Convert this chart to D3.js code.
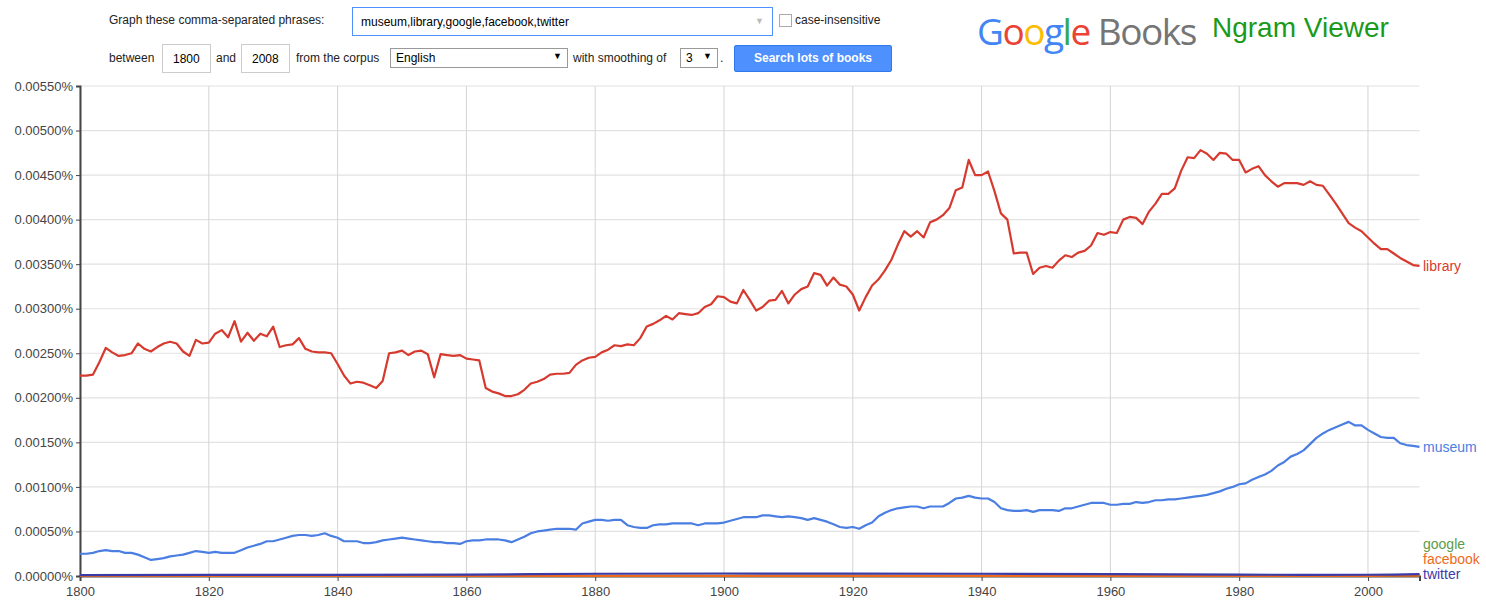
<!DOCTYPE html>
<html><head><meta charset="utf-8">
<script src="https://cdn.jsdelivr.net/npm/d3@7"></script>
<style>
body{margin:0;background:#fff;font-family:Arial,"Liberation Sans",sans-serif;}
.a{position:absolute;font-size:12px;color:#222;white-space:nowrap}
.box{position:absolute;border:1px solid #ccc;background:#fff;font-size:12px;box-sizing:border-box}
</style></head><body>
<div class="a" style="left:109px;top:13px">Graph these comma-separated phrases:</div>
<div class="box" style="left:352px;top:7px;width:421px;height:29px;border-color:#4d90fe;padding:7px 0 0 8px;">museum,library,google,facebook,twitter<span style="position:absolute;right:8px;top:8px;color:#bbb;font-size:9px">▼</span></div>
<div class="box" style="left:779px;top:14px;width:13px;height:13px;border-color:#aaa"></div>
<div class="a" style="left:795px;top:13px">case-insensitive</div>
<div class="a" style="left:109px;top:51px">between</div>
<div class="box" style="left:162px;top:44px;width:49px;height:29px;padding:7px 0 0 10px">1800</div>
<div class="a" style="left:216px;top:51px">and</div>
<div class="box" style="left:241px;top:44px;width:49px;height:29px;padding:7px 0 0 10px">2008</div>
<div class="a" style="left:296px;top:51px">from the corpus</div>
<div class="box" style="left:390px;top:48px;width:178px;height:20px;border-color:#999;padding:2px 0 0 5px">English<span style="position:absolute;right:5px;top:2px;font-size:9px">▼</span></div>
<div class="a" style="left:573px;top:51px">with smoothing of</div>
<div class="box" style="left:680px;top:48px;width:38px;height:20px;border-color:#999;padding:2px 0 0 5px">3<span style="position:absolute;right:5px;top:2px;font-size:9px">▼</span></div>
<div class="a" style="left:720px;top:51px">.</div>
<div style="position:absolute;left:734px;top:45px;width:158px;height:27px;background:#4d90fe;border:1px solid #3079ed;box-sizing:border-box;color:#fff;font-weight:bold;font-size:12px;text-align:center;line-height:25px;border-radius:2px">Search lots of books</div>
<div style="position:absolute;left:977px;top:5px;font-size:37px;font-family:'Open Sans',Arial,sans-serif;letter-spacing:-1.5px;white-space:nowrap"><span style="color:#4285f4">G</span><span style="color:#ea4335">o</span><span style="color:#fbbc05">o</span><span style="color:#4285f4">g</span><span style="color:#34a853">l</span><span style="color:#ea4335">e</span> <span style="color:#757575">Books</span></div>
<div style="position:absolute;left:1212px;top:12px;font-size:28px;color:#1a9a1a;font-family:Arial,'Liberation Sans',sans-serif;white-space:nowrap">Ngram Viewer</div>
<svg id="c" width="1486" height="607" style="position:absolute;left:0;top:0"></svg>
<script>
const startYear = 1800;
const library = [.00225,.00225,.00226,.0024,.00256,.00251,.00247,.00248,.0025,.00261,.00255,.00252,.00257,.00261,.00263,.00261,.00252,.00247,.00265,.00261,
.00262,.00272,.00276,.00268,.00286,.00263,.00273,.00264,.00272,.00269,.0028,.00257,.00259,.0026,.00267,.00255,.00252,.00251,.00251,.0025,
.00238,.00225,.00216,.00218,.00217,.00214,.00211,.00219,.0025,.00251,.00253,.00248,.00252,.00253,.00249,.00223,.00249,.00248,.00247,.00248,
.00244,.00243,.00242,.00211,.00207,.00205,.00202,.00202,.00204,.00209,.00216,.00218,.00221,.00226,.00227,.00227,.00228,.00237,.00242,.00245,
.00246,.00251,.00254,.00259,.00258,.0026,.00259,.00267,.0028,.00283,.00287,.00292,.00288,.00295,.00294,.00293,.00295,.00302,.00305,.00314,
.00313,.00308,.00306,.00321,.0031,.00298,.00302,.00309,.0031,.0032,.00306,.00316,.00322,.00325,.0034,.00338,.00326,.00335,.00327,.00325,
.00316,.00298,.00313,.00326,.00333,.00343,.00355,.00372,.00387,.00381,.00387,.0038,.00397,.004,.00405,.00413,.00433,.00436,.00467,.0045,
.0045,.00454,.00432,.00407,.004,.00362,.00363,.00363,.00339,.00346,.00348,.00346,.00354,.0036,.00358,.00363,.00365,.00371,.00385,.00383,
.00386,.00385,.004,.00403,.00402,.00395,.00409,.00418,.00429,.00429,.00435,.00455,.0047,.00469,.00478,.00474,.00467,.00475,.00474,.00467,
.00467,.00453,.00457,.0046,.0045,.00443,.00437,.00441,.00441,.00441,.00439,.00443,.00439,.00438,.00428,.00418,.00407,.00396,.00391,.00387,
.0038,.00373,.00367,.00367,.00362,.00357,.00353,.00349,.00348];
const museum = [.00025,.00025,.00026,.00028,.00029,.00028,.00028,.00026,.00026,.00024,.00021,.00018,.00019,.0002,.00022,.00023,.00024,.00026,.00028,.00027,
.00026,.00027,.00026,.00026,.00026,.00029,.00032,.00034,.00036,.00039,.00039,.00041,.00043,.00045,.00046,.00046,.00045,.00046,.00048,.00045,
.00043,.00039,.00039,.00039,.00037,.00037,.00038,.0004,.00041,.00042,.00043,.00042,.00041,.0004,.00039,.00038,.00038,.00037,.00037,.00036,
.00039,.0004,.0004,.00041,.00041,.00041,.0004,.00038,.00041,.00044,.00048,.0005,.00051,.00052,.00053,.00053,.00053,.00052,.00059,.00061,
.00063,.00063,.00062,.00063,.00063,.00057,.00055,.00054,.00054,.00057,.00058,.00058,.00059,.00059,.00059,.00059,.00057,.00059,.00059,.00059,
.0006,.00062,.00064,.00066,.00066,.00066,.00068,.00068,.00067,.00066,.00067,.00066,.00065,.00063,.00065,.00063,.00061,.00058,.00055,.00054,
.00055,.00053,.00057,.0006,.00067,.00071,.00074,.00076,.00077,.00078,.00078,.00076,.00078,.00078,.00078,.00082,.00087,.00088,.0009,.00088,
.00087,.00087,.00083,.00076,.00074,.00073,.00073,.00074,.00072,.00074,.00074,.00074,.00073,.00076,.00076,.00078,.0008,.00082,.00082,.00082,
.0008,.0008,.00081,.00081,.00083,.00082,.00083,.00085,.00085,.00086,.00086,.00087,.00088,.00089,.0009,.00091,.00093,.00095,.00098,.001,
.00103,.00104,.00108,.00111,.00114,.00118,.00124,.00128,.00134,.00137,.00141,.00148,.00155,.0016,.00164,.00167,.0017,.00173,.00169,.00169,
.00164,.0016,.00156,.00155,.00155,.00149,.00147,.00146,.00145];
const smallYears = [1800,1820,1840,1860,1870,1880,1900,1920,1940,1960,1980,1990,2000,2004,2008];
const twitter  = [.000010,.000012,.000012,.000015,.000020,.000025,.000028,.000027,.000025,.000020,.000015,.000013,.000014,.000016,.000020];
const facebook = [.000002,.000002,.000002,.000002,.000002,.000002,.000002,.000002,.000002,.000002,.000002,.000002,.000002,.000003,.000004];
const google   = [.000003,.000003,.000003,.000003,.000003,.000003,.000003,.000003,.000003,.000003,.000003,.000003,.000004,.000006,.000008];
const yTicks = [0,.0005,.001,.0015,.002,.0025,.003,.0035,.004,.0045,.005,.0055];
const xTicks = [1800,1820,1840,1860,1880,1900,1920,1940,1960,1980,2000];
const labelOrderBottomUp = ["twitter","facebook","google","museum","library"];

const svg = d3.select("#c");
const x = d3.scaleLinear().domain([1800,2008]).range([80,1419.5]);
const y = d3.scaleLinear().domain([0,.0055]).range([576,86]);
const g = svg.append("g");
g.selectAll(".hg").data(yTicks).join("line").attr("x1",80).attr("x2",1419.5)
 .attr("y1",d=>y(d)).attr("y2",d=>y(d)).attr("stroke","#e2e2e2").attr("stroke-width",1.2);
g.selectAll(".vg").data(xTicks).join("line").attr("y1",86).attr("y2",576)
 .attr("x1",d=>x(d)).attr("x2",d=>x(d)).attr("stroke","#d4d4d4");
const yAxis = svg.append("g").attr("transform","translate(80,0)")
 .call(d3.axisLeft(y).tickValues(yTicks).tickSize(4).tickFormat(d=>d.toFixed(5)+"%"));
yAxis.select(".domain").attr("stroke","#444").attr("stroke-width",2);
yAxis.selectAll("line").attr("stroke","#444");
yAxis.selectAll("text").attr("font-size",13).attr("fill","#444").attr("font-family","Arial,'Liberation Sans',sans-serif");
const xAxis = svg.append("g").attr("transform","translate(0,576)")
 .call(d3.axisBottom(x).tickValues(xTicks).tickSize(5).tickFormat(d3.format("d")));
xAxis.select(".domain").attr("stroke","#444").attr("stroke-width",2);
xAxis.selectAll("line").attr("stroke","#444");
xAxis.selectAll("text").attr("font-size",13).attr("fill","#444").attr("dy","0.9em").attr("font-family","Arial,'Liberation Sans',sans-serif");

const series = [
 {name:"google",years:smallYears,vals:google,color:"#5e9a48"},
 {name:"facebook",years:smallYears,vals:facebook,color:"#ee6a1c"},
 {name:"twitter",years:smallYears,vals:twitter,color:"#3b3ba8"},
 {name:"museum",years:museum.map((_,i)=>startYear+i),vals:museum,color:"#4a7ee2"},
 {name:"library",years:library.map((_,i)=>startYear+i),vals:library,color:"#d63a2f"}
];
const line = d3.line().x(d=>x(d[0])).y(d=>y(d[1]));
series.forEach(s=>{
  svg.append("path").attr("d",line(s.years.map((yr,i)=>[yr,s.vals[i]])))
   .attr("fill","none").attr("stroke",s.color).attr("stroke-width",2.2).attr("stroke-linejoin","round");
});
const labs = labelOrderBottomUp.map(n=>{const s=series.find(t=>t.name===n);return {s,yy:y(s.vals[s.vals.length-1])};});
for(let i=1;i<labs.length;i++){ if(labs[i-1].yy-labs[i].yy<15) labs[i].yy=labs[i-1].yy-15; }
labs.forEach(l=>{
  svg.append("text").attr("x",1423).attr("y",l.yy).attr("dy","0.35em").attr("font-size",14)
   .attr("fill",l.s.color).attr("font-family","Arial,'Liberation Sans',sans-serif").text(l.s.name);
});
</script></body></html>
